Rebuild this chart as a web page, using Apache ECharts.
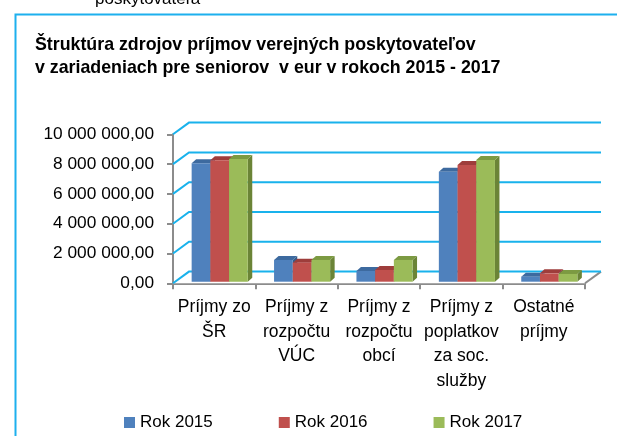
<!DOCTYPE html>
<html>
<head>
<meta charset="utf-8">
<script src="https://cdn.jsdelivr.net/npm/echarts@6/dist/echarts.min.js"></script>
<style>
html,body{margin:0;padding:0;background:#fff;}
#c{width:617px;height:436px;}
</style>
</head>
<body>
<div id="c"></div>
<script>
// ---- data ----
var categories = ['Príjmy zo\nŠR', 'Príjmy z\nrozpočtu\nVÚC', 'Príjmy z\nrozpočtu\nobcí', 'Príjmy z\npoplatkov\nza soc.\nslužby', 'Ostatné\npríjmy'];
var seriesNames = ['Rok 2015', 'Rok 2016', 'Rok 2017'];
var rok2015 = [7950000, 1460000, 720000, 7380000, 340000];
var rok2016 = [8150000, 1280000, 790000, 7830000, 560000];
var rok2017 = [8230000, 1460000, 1460000, 8170000, 520000];
var yTicks = [0, 2000000, 4000000, 6000000, 8000000, 10000000];
var titleText = 'Štruktúra zdrojov príjmov verejných poskytovateľov\nv zariadeniach pre seniorov  v eur v rokoch 2015 - 2017';
var topCutText = 'poskytovateľa';

// ---- styles ----
var FONT = '"Liberation Sans", Arial, sans-serif';
var frontColors = ['#4F81BD', '#C0504D', '#9BBB59'];
var topColors = ['#3D6A9F', '#9E3D3B', '#7C9A42'];
var sideColors = ['#375D8B', '#8A3432', '#6B8437'];
var GRID_COLOR = '#19B2EC';
var AXIS_GRAY = '#8C8C8C';
var DX = 16, DY = -11.7;     // back wall offset
var BX = 5.5, BY = -1.6;     // bar plane offset
var BD_X = 4.5, BD_Y = -4;   // bar depth

function fmt(v) {
  var s = Math.round(v).toString().replace(/\B(?=(\d{3})+(?!\d))/g, ' ');
  return s + ',00';
}

var chart = echarts.init(document.getElementById('c'), null, {renderer: 'canvas'});

function wallItem(params, api) {
  var cs = params.coordSys;
  var v = api.value(1);
  var y = api.coord([0, v])[1];
  var x0 = cs.x, w = cs.width;
  var children = [];
  if (v === 0) {
    children.push({
      type: 'polygon',
      shape: {points: [[x0, y], [x0 + w, y], [x0 + w + DX, y + DY], [x0 + DX, y + DY]]},
      style: {fill: '#fff', stroke: null}
    });
    children.push({
      type: 'line',
      shape: {x1: x0 + w, y1: y, x2: x0 + w + DX, y2: y + DY},
      style: {stroke: AXIS_GRAY, lineWidth: 2}
    });
  }
  children.push({
    type: 'polyline',
    shape: {points: [[x0, y], [x0 + DX, y + DY], [x0 + w + DX, y + DY]]},
    style: {stroke: GRID_COLOR, lineWidth: 2, fill: null}
  });
  return {type: 'group', children: children};
}

function barRenderer(s) {
  return function (params, api) {
    var cat = api.value(0), val = api.value(1);
    var top = api.coord([cat, val]);
    var base = api.coord([cat, 0]);
    var bw = 18.7;
    var x = top[0] - 1.5 * bw + s * bw + BX;
    var yt = top[1] + BY, yb = base[1] + BY;
    return {
      type: 'group',
      children: [
        {type: 'polygon', shape: {points: [[x + bw, yt], [x + bw, yb], [x + bw + BD_X, yb + BD_Y], [x + bw + BD_X, yt + BD_Y]]}, style: {fill: sideColors[s]}},
        {type: 'polygon', shape: {points: [[x, yt], [x + bw, yt], [x + bw + BD_X, yt + BD_Y], [x + BD_X, yt + BD_Y]]}, style: {fill: topColors[s]}},
        {type: 'rect', shape: {x: x, y: yt, width: bw, height: yb - yt}, style: {fill: frontColors[s]}}
      ]
    };
  };
}

var allData = [rok2015, rok2016, rok2017];
var series = [{
  type: 'custom',
  name: '_wall',
  clip: false,
  silent: true,
  z: 1,
  renderItem: wallItem,
  data: yTicks.map(function (v) { return [0, v]; })
}];
allData.forEach(function (arr, s) {
  series.push({
    type: 'custom',
    name: seriesNames[s],
    clip: false,
    z: 3,
    itemStyle: {color: frontColors[s]},
    renderItem: barRenderer(s),
    data: arr.map(function (v, i) { return [i, v]; })
  });
});

var option = {
  backgroundColor: '#fff',
  animation: false,
  textStyle: {fontFamily: FONT},
  title: {
    text: titleText,
    left: 35,
    top: 34,
    padding: 0,
    textStyle: {fontFamily: FONT, fontSize: 17.8, fontWeight: 'bold', color: '#000', lineHeight: 23}
  },
  legend: {
    data: seriesNames,
    left: 124,
    top: 414,
    padding: 0,
    itemWidth: 11,
    itemHeight: 11,
    itemGap: 66,
    icon: 'rect',
    textStyle: {fontFamily: FONT, fontSize: 17, color: '#000'}
  },
  grid: {left: 173, top: 134.3, width: 412, height: 149, containLabel: false},
  xAxis: {
    type: 'category',
    data: categories,
    axisLine: {show: true, lineStyle: {color: AXIS_GRAY, width: 2}},
    axisTick: {show: true, length: 6, lineStyle: {color: AXIS_GRAY, width: 2}},
    axisLabel: {margin: 12, fontFamily: FONT, fontSize: 17.5, color: '#000', lineHeight: 24.5, interval: 0},
    splitLine: {show: false}
  },
  yAxis: {
    type: 'value',
    min: 0,
    max: 10000000,
    interval: 2000000,
    axisLine: {show: true, lineStyle: {color: AXIS_GRAY, width: 2}},
    axisTick: {show: true, length: 6, lineStyle: {color: AXIS_GRAY, width: 2}},
    axisLabel: {margin: 19, fontFamily: FONT, fontSize: 17.3, color: '#000', formatter: fmt},
    splitLine: {show: false}
  },
  graphic: [
    {type: 'rect', left: 13, top: 12, shape: {width: 800, height: 600}, style: {fill: null, stroke: '#1DB0EE', lineWidth: 2}, z: 0, silent: true},
    {type: 'text', left: 95, top: -9, style: {text: topCutText, font: '17px ' + FONT, fill: '#000'}, z: 0}
  ],
  series: series
};
chart.setOption(option);
</script>
</body>
</html>
